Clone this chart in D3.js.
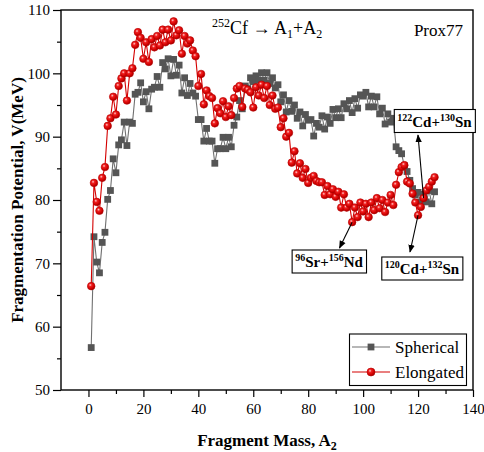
<!DOCTYPE html>
<html>
<head>
<meta charset="utf-8">
<script src="https://cdn.jsdelivr.net/npm/d3@7"></script>
<style>
  html, body { margin: 0; padding: 0; background: #fff; }
  svg { display: block; }
  svg text { font-family: "Liberation Serif", "Times New Roman", serif !important; }
</style>
</head>
<body>
<svg id="chart" width="484" height="452"></svg>
<script>
// ---------- DATA ----------
const masses = d3.range(1, 127); // fragment mass A2 = 1 ... 126

const spherical = [
  56.7, 74.2, 70.2, 68.5, 73.3, 74.9, 80.1, 81.5, 86.5, 84.3,
  88.7, 89.5, 92.3, 88.6, 92.3, 92.1, 96.7, 97.0, 98.5, 95.5,
  97.1, 94.4, 97.5, 97.8, 99.5, 97.8, 101.7, 100.7, 102.3, 99.6,
  102.2, 99.7, 101.3, 96.9, 99.3, 96.5, 98.4, 96.9, 96.4, 92.7,
  92.7, 89.3, 91.3, 89.3, 89.3, 85.8, 88.1, 88.1, 89.9, 88.1,
  89.9, 88.4, 91.8, 93.1, 95.7, 94.4, 98.0, 97.6, 99.3, 98.7,
  99.6, 98.9, 100.1, 98.9, 100.1, 98.4, 99.3, 97.7, 98.2, 95.5,
  96.6, 93.9, 95.7, 94.0, 95.0, 92.9, 93.9, 91.7, 93.5, 92.6,
  92.7, 90.1, 92.1, 91.5, 93.3, 91.2, 93.1, 92.1, 94.3, 93.0,
  94.4, 93.0, 95.2, 94.4, 95.7, 93.8, 96.0, 94.5, 96.6, 96.4,
  97.0, 94.7, 96.4, 94.7, 96.3, 93.6, 94.5, 92.0, 93.6, 92.3,
  92.9, 88.4, 87.8, 87.3, 85.4, 84.5, 83.1, 81.8, 80.8, 81.2,
  79.7, 80.9, 79.7, 81.5, 79.4, 81.3
];

const elongated = [
  66.4, 82.7, 79.7, 78.3, 83.5, 85.2, 91.7, 92.9, 96.3, 93.5,
  98.0, 99.2, 100.0, 95.7, 100.0, 100.8, 104.5, 106.5, 105.6, 102.3,
  104.9, 101.8, 105.4, 104.1, 105.9, 104.4, 106.9, 104.9, 106.9, 105.2,
  108.2, 106.0, 106.8, 103.1, 105.9, 104.7, 105.2, 103.6, 102.7, 98.0,
  99.9, 95.1, 97.3, 96.4, 96.1, 92.1, 94.5, 93.7, 95.6, 93.1,
  94.8, 93.4, 96.1, 97.6, 98.0, 94.7, 97.6, 97.4, 97.0, 94.6,
  97.8, 96.5, 98.2, 96.1, 98.0, 95.0, 96.5, 94.4, 94.6, 91.5,
  92.9, 90.0, 90.6, 85.9, 87.7, 84.2, 85.8, 83.5, 84.9, 82.7,
  83.5, 83.8, 83.0, 82.8, 82.8, 80.8, 82.2, 80.9, 81.7, 80.5,
  81.3, 78.8, 80.9, 78.8, 79.4, 76.5, 78.8, 77.3, 79.6, 78.2,
  79.4, 77.3, 79.6, 78.4, 80.3, 78.7, 80.0, 78.1, 79.6, 80.8,
  79.2, 82.4, 84.4, 85.2, 85.5, 82.9, 82.6, 81.0, 79.6, 77.6,
  78.9, 80.3, 81.5, 82.1, 82.9, 83.6
];

const seriesNames = ["Spherical", "Elongated"];
const xMajorTicks = [0, 20, 40, 60, 80, 100, 120, 140];
const xMinorTicks = [10, 30, 50, 70, 90, 110, 130];
const yMajorTicks = [50, 60, 70, 80, 90, 100, 110];
const yMinorTicks = [55, 65, 75, 85, 95, 105];

// annotation labels and the fragment mass each arrow points at
const annotations = [
  { a: "122", b: "Cd+", c: "130", d: "Sn", mass: 122, series: "elongated" },
  { a: "96",  b: "Sr+", c: "156", d: "Nd", mass: 96,  series: "elongated" },
  { a: "120", b: "Cd+", c: "132", d: "Sn", mass: 120, series: "elongated" }
];

// ---------- LAYOUT ----------
const svg = d3.select("#chart");
const L = 61, R = 473, T = 10, B = 390;
const x = d3.scaleLinear().domain([-10, 140]).range([L, R]);
const y = d3.scaleLinear().domain([50, 110]).range([B, T]);

const defs = svg.append("defs");
const grad = defs.append("radialGradient").attr("id", "ball")
  .attr("cx", "38%").attr("cy", "35%").attr("r", "65%");
grad.append("stop").attr("offset", "0%").attr("stop-color", "#ffd0d0");
grad.append("stop").attr("offset", "30%").attr("stop-color", "#f02020");
grad.append("stop").attr("offset", "75%").attr("stop-color", "#d00000");
grad.append("stop").attr("offset", "100%").attr("stop-color", "#a00000");
defs.append("marker").attr("id", "arrowHead")
  .attr("viewBox", "0 0 10 10").attr("refX", 9).attr("refY", 5)
  .attr("markerWidth", 8).attr("markerHeight", 8).attr("markerUnits", "userSpaceOnUse")
  .attr("orient", "auto")
  .append("path").attr("d", "M0,1 L10,5 L0,9 Z").attr("fill", "#000");

// ---------- AXES ----------
const fontTick = 15;
svg.append("g").attr("transform", `translate(0,${B})`)
  .call(d3.axisBottom(x).tickValues(xMajorTicks).tickSize(7).tickPadding(6).tickFormat(d3.format("d")));
svg.append("g").attr("transform", `translate(0,${B})`)
  .call(d3.axisBottom(x).tickValues(xMinorTicks).tickSize(4).tickFormat(""));
svg.append("g").attr("transform", `translate(${L},0)`)
  .call(d3.axisLeft(y).tickValues(yMajorTicks).tickSize(8).tickPadding(3).tickFormat(d3.format("d")));
svg.append("g").attr("transform", `translate(${L},0)`)
  .call(d3.axisLeft(y).tickValues(yMinorTicks).tickSize(4).tickFormat(""));
svg.selectAll(".domain").remove();
svg.selectAll(".tick line").attr("stroke", "#000").attr("stroke-width", 1.2);
svg.selectAll(".tick text").attr("font-size", fontTick).attr("fill", "#000");

svg.append("rect").attr("x", L).attr("y", T).attr("width", R - L).attr("height", B - T)
  .attr("fill", "none").attr("stroke", "#000").attr("stroke-width", 1.4);

const xt = svg.append("text").attr("x", (L + R) / 2).attr("y", 446)
  .attr("text-anchor", "middle").attr("font-weight", "bold").attr("font-size", 17);
xt.append("tspan").text("Fragment Mass, A");
xt.append("tspan").attr("font-size", 12).attr("dy", 4).text("2");

svg.append("text").attr("transform", `translate(23,${(T + B) / 2}) rotate(-90)`)
  .attr("text-anchor", "middle").attr("font-weight", "bold").attr("font-size", 17)
  .text("Fragmentation Potential, V(MeV)");

// ---------- SERIES ----------
const sData = masses.map((m, i) => ({ m, v: spherical[i] }));
const eData = masses.map((m, i) => ({ m, v: elongated[i] }));
const line = d3.line().x(d => x(d.m)).y(d => y(d.v));

const plot = svg.append("g");
plot.append("path").datum(sData).attr("d", line)
  .attr("fill", "none").attr("stroke", "#707070").attr("stroke-width", 1.1);
plot.selectAll("rect.sq").data(sData).join("rect").attr("class", "sq")
  .attr("x", d => x(d.m) - 3.4).attr("y", d => y(d.v) - 3.4)
  .attr("width", 6.8).attr("height", 6.8)
  .attr("fill", "#555");

plot.append("path").datum(eData).attr("d", line)
  .attr("fill", "none").attr("stroke", "#d40000").attr("stroke-width", 1.1);
plot.selectAll("circle.ball").data(eData).join("circle").attr("class", "ball")
  .attr("cx", d => x(d.m)).attr("cy", d => y(d.v)).attr("r", 3.8)
  .attr("fill", "url(#ball)").attr("stroke", "#b80000").attr("stroke-width", 0.6);

// ---------- TEXTS ----------
const title = svg.append("text").attr("x", 212).attr("y", 34).attr("font-size", 18);
title.append("tspan").attr("font-size", 12).attr("dy", -7).text("252");
title.append("tspan").attr("dy", 7).text("Cf \u2192 A");
title.append("tspan").attr("font-size", 12).attr("dy", 4).text("1");
title.append("tspan").attr("dy", -4).text("+A");
title.append("tspan").attr("font-size", 12).attr("dy", 4).text("2");

svg.append("text").attr("x", 463).attr("y", 36).attr("text-anchor", "end")
  .attr("font-size", 17).text("Prox77");

// ---------- ANNOTATIONS ----------
const boxPos = [
  { cx: 434.5, cy: 121, tipx: 418, tipy: 135 },
  { cx: 329, cy: 261.5, tipx: 339.5, tipy: 248 },
  { cx: 422, cy: 268.5, tipx: 410, tipy: 252 }
];
annotations.forEach((a, i) => {
  const p = boxPos[i];
  const g = svg.append("g");
  const t = g.append("text").attr("x", p.cx).attr("y", p.cy + 5.5)
    .attr("text-anchor", "middle").attr("font-weight", "bold").attr("font-size", 15);
  t.append("tspan").attr("font-size", 10).attr("dy", -6).text(a.a);
  t.append("tspan").attr("dy", 6).text(a.b);
  t.append("tspan").attr("font-size", 10).attr("dy", -6).text(a.c);
  t.append("tspan").attr("dy", 6).text(a.d);
  const bb = t.node().getBBox();
  g.insert("rect", "text").attr("x", bb.x - 3).attr("y", p.cy - 11.5)
    .attr("width", bb.width + 6).attr("height", 23)
    .attr("fill", "#fff").attr("stroke", "#000").attr("stroke-width", 1.1);
  const vals = a.series === "elongated" ? elongated : spherical;
  const sx = x(a.mass), sy = y(vals[masses.indexOf(a.mass)]);
  svg.append("line").attr("x1", sx).attr("y1", sy).attr("x2", p.tipx).attr("y2", p.tipy)
    .attr("stroke", "#000").attr("stroke-width", 1.1).attr("marker-end", "url(#arrowHead)");
});

// ---------- LEGEND ----------
const lg = svg.append("g");
lg.append("rect").attr("x", 349.5).attr("y", 334).attr("width", 117).attr("height", 51.5)
  .attr("fill", "#fff").attr("stroke", "#000").attr("stroke-width", 1.1);
const legendRows = [
  { name: seriesNames[0], y: 347, color: "#707070", type: "sq" },
  { name: seriesNames[1], y: 372, color: "#d40000", type: "ball" }
];
legendRows.forEach(r => {
  lg.append("line").attr("x1", 352).attr("x2", 390).attr("y1", r.y).attr("y2", r.y)
    .attr("stroke", r.color).attr("stroke-width", 1.2);
  if (r.type === "sq") {
    lg.append("rect").attr("x", 371 - 3.4).attr("y", r.y - 3.4).attr("width", 6.8).attr("height", 6.8)
      .attr("fill", "#555");
  } else {
    lg.append("circle").attr("cx", 371).attr("cy", r.y).attr("r", 4)
      .attr("fill", "url(#ball)").attr("stroke", "#b80000").attr("stroke-width", 0.6);
  }
  lg.append("text").attr("x", 395).attr("y", r.y + 6).attr("font-size", 17).text(r.name);
});
</script>
</body>
</html>
